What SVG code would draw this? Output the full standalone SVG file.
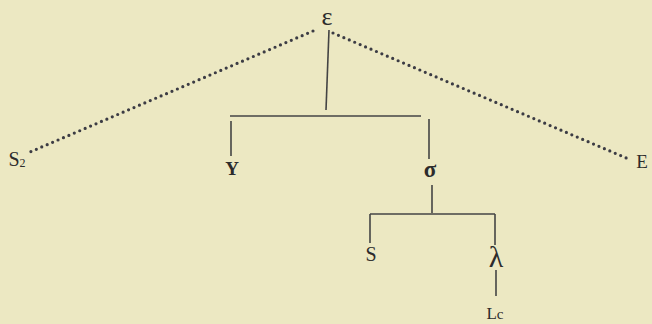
<svg xmlns="http://www.w3.org/2000/svg" width="652" height="324" viewBox="0 0 652 324">
<style>
.bg{fill:#ece8c2}
.ln{stroke:#444;stroke-width:1.6;fill:none;stroke-linecap:butt}
.dot{stroke:#3c3c44;stroke-width:3.2;fill:none;stroke-linecap:round;stroke-dasharray:0 5.9}
.t{font-family:"Liberation Serif","DejaVu Serif",serif;fill:#2c2c2c;text-anchor:middle}
</style>
<rect class="bg" width="652" height="324"/>
<g id="connectors">
<line class="dot" x1="313" y1="31" x2="30" y2="152"/>
<line class="dot" x1="333" y1="33" x2="631" y2="160"/>
<line class="ln" x1="329" y1="30" x2="326" y2="110"/>
<line class="ln" x1="230" y1="116" x2="421" y2="116"/>
<line class="ln" x1="231" y1="121" x2="231" y2="156"/>
<line class="ln" x1="429" y1="119" x2="429" y2="159"/>
<line class="ln" x1="432" y1="185" x2="432" y2="213"/>
<line class="ln" x1="370" y1="214" x2="495" y2="214"/>
<line class="ln" x1="370" y1="214" x2="370" y2="243"/>
<line class="ln" x1="495" y1="214" x2="495" y2="245"/>
<line class="ln" x1="496" y1="270" x2="496" y2="296"/>
</g>
<g id="epsilon"><text class="t" x="327" y="25" font-size="26">ε</text></g>
<g id="S2"><text class="t" x="17" y="166" font-size="20">S<tspan font-size="12" dy="1">2</tspan></text></g>
<g id="E"><text class="t" x="642" y="168" font-size="19">E</text></g>
<g id="Y"><text class="t" x="232" y="175" font-size="19" font-weight="bold">Y</text></g>
<g id="sigma"><text class="t" x="430" y="177" font-size="23" font-weight="bold">σ</text></g>
<g id="S"><text class="t" x="371" y="261" font-size="20">S</text></g>
<g id="lambda"><text class="t" x="496" y="267" font-size="30">λ</text></g>
<g id="Lc"><text class="t" x="495" y="319" font-size="17">L<tspan font-size="15">c</tspan></text></g>
</svg>
